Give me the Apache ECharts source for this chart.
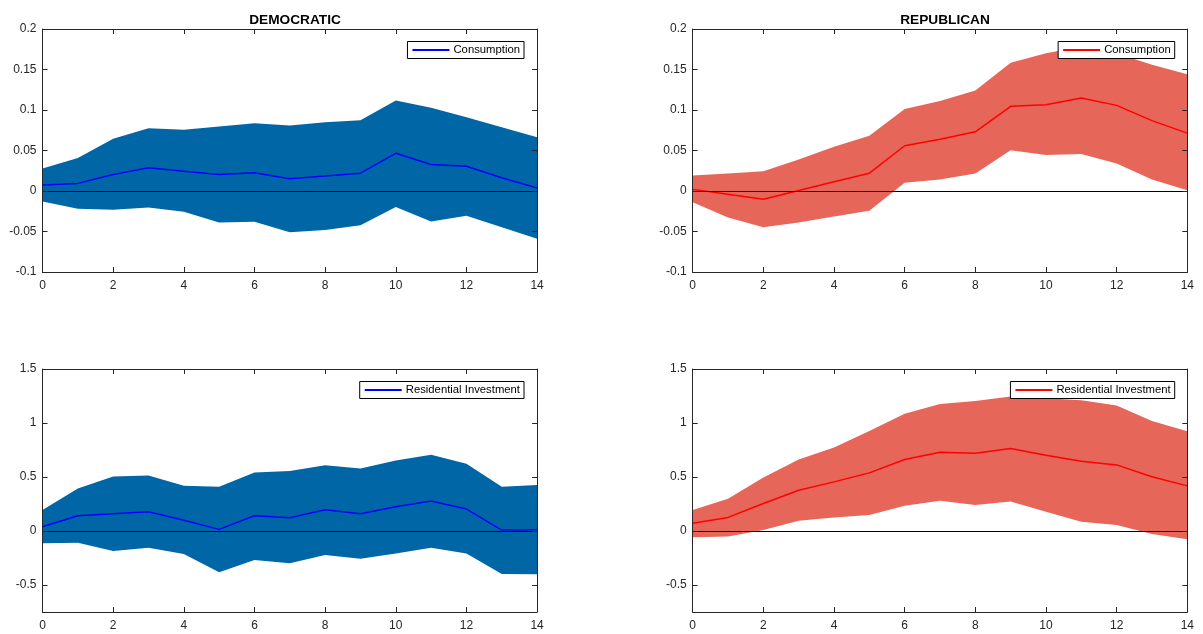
<!DOCTYPE html>
<html>
<head>
<meta charset="utf-8">
<script src="https://cdn.jsdelivr.net/npm/echarts@6/dist/echarts.min.js"></script>
<style>
html,body{margin:0;padding:0;background:#fff;}
#chart{width:1203px;height:634px;}
</style>
</head>
<body>
<div id="chart"></div>
<script>
// ---- Data ----
var horizons = ['0','1','2','3','4','5','6','7','8','9','10','11','12','13','14'];

var demConsMean  = [0.0073,0.0094,0.0204,0.0286,0.0245,0.0204,0.0224,0.0151,0.0184,0.0220,0.0465,0.0327,0.0306,0.0163,0.0037];
var demConsUpper = [0.0278,0.0408,0.0645,0.0776,0.0755,0.0796,0.0837,0.0808,0.0849,0.0873,0.1118,0.1029,0.0910,0.0788,0.0665];
var demConsLower = [-0.0131,-0.0220,-0.0233,-0.0204,-0.0257,-0.0388,-0.0380,-0.0510,-0.0480,-0.0424,-0.0196,-0.0376,-0.0306,-0.0449,-0.0588];

var repConsMean  = [0.0020,-0.0040,-0.0102,0.0006,0.0115,0.0220,0.0559,0.0640,0.0731,0.1045,0.1065,0.1147,0.1057,0.0869,0.0714];
var repConsUpper = [0.0192,0.0216,0.0245,0.0388,0.0547,0.0682,0.1012,0.1110,0.1240,0.1584,0.1700,0.1780,0.1700,0.1560,0.1440];
var repConsLower = [-0.0139,-0.0327,-0.0449,-0.0390,-0.0314,-0.0245,0.0102,0.0143,0.0216,0.0502,0.0445,0.0457,0.0339,0.0143,0.0008];

var demInvMean  = [0.040,0.1415,0.160,0.178,0.100,0.015,0.1415,0.123,0.197,0.160,0.225,0.277,0.203,0.009,0.012];
var demInvUpper = [0.194,0.394,0.505,0.514,0.418,0.409,0.542,0.556,0.609,0.578,0.652,0.705,0.622,0.409,0.425];
var demInvLower = [-0.114,-0.108,-0.185,-0.154,-0.212,-0.382,-0.268,-0.298,-0.222,-0.258,-0.209,-0.154,-0.209,-0.397,-0.400];

var repInvMean  = [0.071,0.126,0.255,0.378,0.455,0.538,0.662,0.730,0.720,0.763,0.702,0.646,0.612,0.502,0.418];
var repInvUpper = [0.194,0.298,0.495,0.662,0.772,0.926,1.086,1.175,1.203,1.245,1.230,1.210,1.163,1.018,0.923];
var repInvLower = [-0.058,-0.052,0.009,0.095,0.126,0.148,0.234,0.280,0.240,0.274,0.178,0.086,0.055,-0.028,-0.077];

var titles = ['DEMOCRATIC','REPUBLICAN'];
var consTicks = [-0.1,-0.05,0,0.05,0.1,0.15,0.2];
var invTicks = [-0.5,0,0.5,1,1.5];

// ---- Styling ----
var FONT = 'Liberation Sans, Arial, Helvetica, sans-serif';
var AX = '#262626';
var DEM_FILL = '#0066a6';
var REP_FILL = '#e6665a';
var DEM_LINE = '#0000ff';
var REP_LINE = '#ff0000';

var panels = [
  {left:42.5, top:29,  mean:demConsMean, up:demConsUpper, lo:demConsLower, fill:DEM_FILL, line:DEM_LINE, name:'Consumption', kind:'cons', lgTop:41.5},
  {left:692.7,top:29,  mean:repConsMean, up:repConsUpper, lo:repConsLower, fill:REP_FILL, line:REP_LINE, name:'Consumption ', kind:'cons', lgTop:41.5},
  {left:42.5, top:369, mean:demInvMean,  up:demInvUpper,  lo:demInvLower,  fill:DEM_FILL, line:DEM_LINE, name:'Residential Investment', kind:'inv', lgTop:381.5},
  {left:692.7,top:369, mean:repInvMean,  up:repInvUpper,  lo:repInvLower,  fill:REP_FILL, line:REP_LINE, name:'Residential Investment ', kind:'inv', lgTop:381.5}
];
var GW = 494.6, GH = 243;

function fmt(v){
  return String(Math.round(v*1000)/1000);
}

var grids=[], xAxes=[], yAxes=[], series=[], legends=[];
panels.forEach(function(p, i){
  grids.push({left:p.left, top:p.top, width:GW, height:GH, containLabel:false, show:false});
  var ax = {
    type:'category', data:horizons, boundaryGap:false, gridIndex:i, z:10,
    axisLine:{show:true, onZero:false, lineStyle:{color:AX, width:1}},
    axisTick:{show:true, inside:true, length:5, interval:1, lineStyle:{color:AX}},
    splitLine:{show:false}
  };
  xAxes.push(Object.assign({}, ax, {position:'bottom',
    axisLabel:{show:true, interval:1, color:AX, fontFamily:FONT, fontSize:12, margin:8}}));
  xAxes.push(Object.assign({}, ax, {position:'top', axisLabel:{show:false}}));

  var yBase = {
    type:'value', gridIndex:i, z:10,
    axisLine:{show:true, onZero:false, lineStyle:{color:AX, width:1}},
    splitLine:{show:false}
  };
  if (p.kind === 'cons') {
    yBase.min = -0.1; yBase.max = 0.2; yBase.interval = 0.05;
    yBase.axisTick = {show:true, inside:true, length:5, lineStyle:{color:AX}};
  } else {
    yBase.min = -0.75; yBase.max = 1.5;
    yBase.axisTick = {show:true, inside:true, length:5, lineStyle:{color:AX}, customValues:invTicks};
  }
  var yl = Object.assign({}, yBase, {position:'left',
    axisLabel:{show:true, color:AX, fontFamily:FONT, fontSize:12, margin:6, formatter:function(v){return fmt(v);}}});
  if (p.kind === 'inv') yl.axisLabel.customValues = invTicks;
  yAxes.push(yl);
  yAxes.push(Object.assign({}, yBase, {position:'right', axisLabel:{show:false}}));

  var xi = 2*i, yi = 2*i;
  var diffData = p.up.map(function(u,k){return u - p.lo[k];});
  series.push({type:'line', xAxisIndex:xi, yAxisIndex:yi, data:p.lo.slice(), stack:'band'+i, stackStrategy:'all',
    symbol:'none', lineStyle:{width:0, opacity:0}, silent:true, z:1});
  series.push({type:'line', xAxisIndex:xi, yAxisIndex:yi, data:diffData, stack:'band'+i, stackStrategy:'all',
    symbol:'none', lineStyle:{width:0, opacity:0}, areaStyle:{color:p.fill, opacity:1}, silent:true, z:1});
  series.push({type:'line', name:p.name, xAxisIndex:xi, yAxisIndex:yi, data:p.mean.slice(), z:3,
    symbol:'none', lineStyle:{color:p.line, width:1.5}, itemStyle:{color:p.line},
    markLine:{silent:true, symbol:['none','none'], label:{show:false}, animation:false,
      lineStyle:{color:'#000', type:'solid', width:1}, data:[{yAxis:0}]}});

  legends.push({
    data:[p.name], right: (i%2===0) ? (1203-524) : (1203-1174.7), top:p.lgTop,
    orient:'horizontal', icon:'rect', itemWidth:37, itemHeight:2, itemGap:4,
    backgroundColor:'#fff', borderColor:'#000', borderWidth:1, borderRadius:0,
    padding:[3,4,3,5],
    formatter:function(n){return n.trim();},
    textStyle:{color:'#000', fontFamily:FONT, fontSize:11.3, padding:[0,0,0,-1]},
    selectedMode:false
  });
});

var chart = echarts.init(document.getElementById('chart'), null, {renderer:'canvas'});
chart.setOption({
  animation:false,
  backgroundColor:'#fff',
  title:[
    {text:titles[0], left:290, top:8, textAlign:'center', textStyle:{fontFamily:FONT, fontWeight:'bold', fontSize:13.7, color:'#000'}},
    {text:titles[1], left:940, top:8, textAlign:'center', textStyle:{fontFamily:FONT, fontWeight:'bold', fontSize:13.7, color:'#000'}}
  ],
  legend:legends,
  grid:grids,
  xAxis:xAxes,
  yAxis:yAxes,
  series:series
});
</script>
</body>
</html>
